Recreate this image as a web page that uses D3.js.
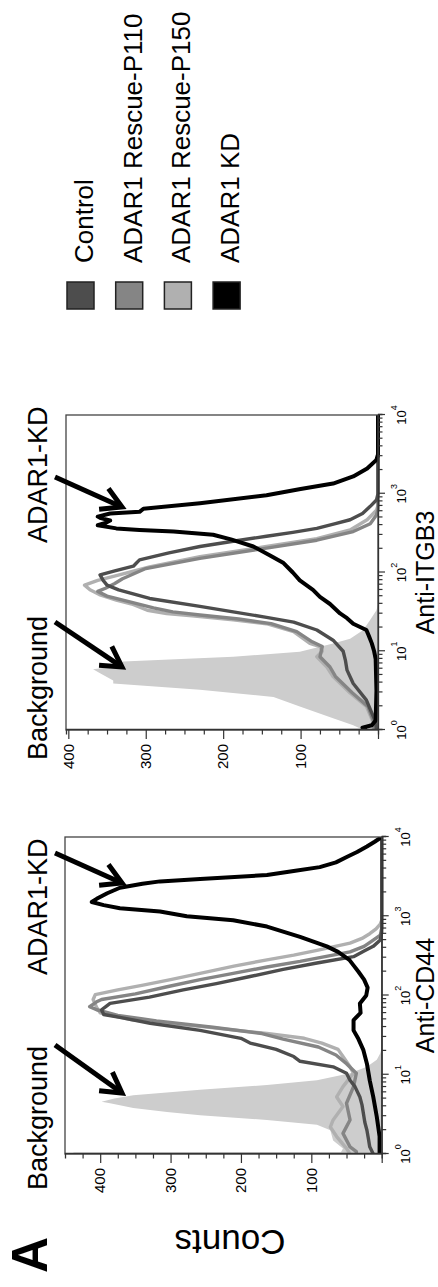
<!DOCTYPE html>
<html>
<head>
<meta charset="utf-8">
<script src="https://cdn.jsdelivr.net/npm/d3@7"></script>
<style>
  body { margin: 0; background: #fff; }
  svg { display: block; }
  text { font-family: "Liberation Sans", Arial, Helvetica, sans-serif; fill: #000; }
</style>
</head>
<body>
<svg id="fig" width="438" height="1287"></svg>
<script>
// values are [log10 fluorescence, counts]
const legendNames = ["Control", "ADAR1 Rescue-P110", "ADAR1 Rescue-P150", "ADAR1 KD"];
const decadeExponents = [0, 1, 2, 3, 4];
const countTickLabels = [100, 200, 300, 400];

const cd44Background = [[0,0],[0,438],[0.018,438],[0.022,58],[0.07,55],[0.17,69],[0.3,73],[0.37,92],
  [0.43,163],[0.49,258],[0.53,305],[0.58,353],[0.64,386],[0.66,398],[0.7,380],[0.74,353],[0.81,258],
  [0.87,163],[0.93,92],[1.02,45],[1.1,21],[1.19,7],[1.27,2],[1.35,0],[4,0]];
const cd44Control = [[0,12],[0.09,17],[0.2,19],[0.3,21],[0.4,24],[0.51,26],[0.62,28],[0.72,31],[0.85,38],
  [0.93,45],[1.02,50],[1.1,69],[1.17,116],[1.23,125],[1.32,150],[1.4,187],[1.46,200],[1.56,258],
  [1.65,329],[1.72,370],[1.76,395],[1.82,398],[1.86,392],[1.9,386],[1.98,330],[2.07,282],[2.15,235],
  [2.24,187],[2.33,140],[2.41,92],[2.49,40],[2.56,25],[2.62,12],[2.7,2],[2.8,0],[4,0]];
const cd44P110 = [[0,36],[0.03,36],[0.09,45],[0.26,55],[0.43,45],[0.64,50],[0.85,40],[1.02,36],[1.14,50],
  [1.25,65],[1.35,90],[1.45,140],[1.52,170],[1.6,240],[1.68,320],[1.75,375],[1.82,405],[1.86,415],
  [1.92,405],[1.95,398],[2.02,350],[2.11,305],[2.2,258],[2.28,211],[2.36,163],[2.43,116],[2.5,75],
  [2.55,45],[2.62,25],[2.7,12],[2.76,2],[2.85,0],[4,0]];
const cd44P150 = [[0,45],[0.07,50],[0.22,64],[0.34,73],[0.43,69],[0.6,55],[0.72,64],[0.85,55],[1.02,40],
  [1.1,45],[1.23,55],[1.32,62],[1.4,85],[1.46,110],[1.52,163],[1.61,258],[1.69,353],[1.78,400],
  [1.85,405],[1.95,410],[2.01,407],[2.07,375],[2.13,339],[2.2,300],[2.28,258],[2.37,210],[2.45,163],
  [2.51,125],[2.57,92],[2.66,45],[2.72,28],[2.78,17],[2.84,8],[2.9,2],[2.95,0],[4,0]];
const cd44KD = [[0,3],[0.22,3],[0.47,7],[0.72,12],[0.93,17],[1.14,21],[1.31,26],[1.45,33],[1.56,40],
  [1.69,40],[1.78,30],[1.9,31],[2.0,22],[2.1,20],[2.2,25],[2.3,33],[2.38,40],[2.45,46],[2.55,62],
  [2.62,78],[2.68,97],[2.74,116],[2.87,163],[2.95,211],[3.0,277],[3.06,315],[3.1,372],[3.14,395],
  [3.18,412],[3.22,405],[3.29,390],[3.36,372],[3.41,340],[3.44,315],[3.47,258],[3.52,163],[3.57,125],
  [3.62,88],[3.68,65],[3.75,49],[3.81,35],[3.88,21],[3.94,10],[4.0,0]];

const itgb3Background = [[0,0],[0,130],[0.012,130],[0.02,23],[0.06,32],[0.15,58],[0.3,101],[0.42,135],
  [0.51,230],[0.59,342],[0.63,342],[0.72,359],[0.77,368],[0.8,345],[0.87,329],[0.93,187],[0.995,101],
  [1.1,58],[1.16,36],[1.27,19],[1.4,10],[1.52,2],[1.6,0],[4,0]];
const itgb3Control = [[0,2],[0.1,3],[0.38,15],[0.59,32],[0.76,40],[0.88,42],[1.0,45],[1.14,58],[1.27,79],
  [1.37,109],[1.43,144],[1.5,187],[1.57,230],[1.67,295],[1.78,335],[1.84,350],[1.9,355],[1.97,359],
  [2.02,340],[2.08,316],[2.12,312],[2.16,308],[2.25,270],[2.33,230],[2.4,185],[2.46,144],[2.51,110],
  [2.56,79],[2.62,55],[2.67,36],[2.75,20],[2.84,10],[2.92,2],[3.0,0],[4,0]];
const itgb3P110 = [[0,5],[0.09,5],[0.3,13],[0.47,33],[0.68,55],[0.8,62],[0.93,75],[1.06,72],[1.12,85],
  [1.25,105],[1.35,138],[1.41,180],[1.46,230],[1.5,265],[1.55,290],[1.62,318],[1.7,350],[1.76,362],
  [1.8,352],[1.86,340],[1.92,330],[2.05,300],[2.18,230],[2.31,144],[2.41,79],[2.52,32],[2.62,10],
  [2.73,2],[2.8,0],[4,0]];
const itgb3P150 = [[0,6],[0.09,6],[0.3,15],[0.47,36],[0.68,58],[0.8,66],[0.93,79],[1.0,72],[1.06,75],
  [1.1,88],[1.25,109],[1.35,144],[1.4,187],[1.45,240],[1.48,273],[1.52,298],[1.6,318],[1.65,338],
  [1.72,360],[1.78,372],[1.84,379],[1.9,362],[1.96,338],[2.07,295],[2.2,230],[2.33,144],[2.43,79],
  [2.54,36],[2.67,14],[2.79,2],[2.85,0],[4,0]];
const itgb3KD = [[0,15],[0.03,20],[0.06,8],[0.12,3],[0.5,2],[0.9,3],[1.0,5],[1.1,8],[1.2,12],[1.27,15],
  [1.35,32],[1.42,40],[1.48,49],[1.6,62],[1.69,75],[1.78,84],[1.9,101],[2.0,110],[2.12,122],[2.22,140],
  [2.33,161],[2.42,190],[2.48,213],[2.52,264],[2.54,308],[2.56,338],[2.6,362],[2.63,352],[2.66,346],
  [2.69,358],[2.71,362],[2.75,346],[2.77,308],[2.81,303],[2.88,230],[2.98,144],[3.06,100],[3.13,58],
  [3.22,32],[3.32,14],[3.43,2],[3.5,0],[4,0]];

const pageH = 1287;

const colors = {
  "Control": "#4d4d4d",
  "ADAR1 Rescue-P110": "#858585",
  "ADAR1 Rescue-P150": "#b0b0b0",
  "ADAR1 KD": "#000000",
  background: "#cdcdcd"
};

// the figure is laid out landscape and turned a quarter turn counter-clockwise
const svg = d3.select("#fig");
const fig = svg.append("g").attr("transform", `translate(0,${pageH}) rotate(-90)`);

const panels = [
  {
    id: "cd44", title: "Anti-CD44",
    left: 133, right: 450, top: 65, bottom: 381.7, countMax: 450,
    background: cd44Background,
    series: { "ADAR1 Rescue-P150": cd44P150, "ADAR1 Rescue-P110": cd44P110, "Control": cd44Control, "ADAR1 KD": cd44KD },
    notes: [
      { text: "Background", x: 97, tail: [242, 55], head: [194, 122] },
      { text: "ADAR1-KD", x: 312, tail: [434, 55], head: [404, 122] }
    ]
  },
  {
    id: "itgb3", title: "Anti-ITGB3",
    left: 557, right: 872, top: 66, bottom: 378, countMax: 403,
    background: itgb3Background,
    series: { "ADAR1 Rescue-P150": itgb3P150, "ADAR1 Rescue-P110": itgb3P110, "Control": itgb3Control, "ADAR1 KD": itgb3KD },
    notes: [
      { text: "Background", x: 527, tail: [665, 55], head: [620, 122] },
      { text: "ADAR1-KD", x: 744, tail: [810, 55], head: [780, 122] }
    ]
  }
];

function drawArrow(g, tail, head) {
  const dx = tail[0] - head[0], dy = tail[1] - head[1];
  const len = Math.hypot(dx, dy);
  const ux = dx / len, uy = dy / len;
  const barb = 23, ang = 0.52;
  const rot = a => [head[0] + barb * (ux * Math.cos(a) - uy * Math.sin(a)), head[1] + barb * (ux * Math.sin(a) + uy * Math.cos(a))];
  g.append("line")
    .attr("x1", tail[0]).attr("y1", tail[1])
    .attr("x2", head[0] + ux * 2).attr("y2", head[1] + uy * 2)
    .attr("stroke", "#000").attr("stroke-width", 5);
  g.append("path")
    .attr("d", `M${rot(ang)}L${head}L${rot(-ang)}`)
    .attr("fill", "none").attr("stroke", "#000")
    .attr("stroke-width", 5).attr("stroke-linejoin", "miter");
}

panels.forEach(p => {
  const x = d3.scaleLog().domain([1, 1e4]).range([p.left, p.right]);
  const y = d3.scaleLinear().domain([0, p.countMax]).range([p.bottom, p.top]);
  const g = fig.append("g");

  g.append("clipPath").attr("id", `clip-${p.id}`)
    .append("rect")
    .attr("x", p.left).attr("y", p.top)
    .attr("width", p.right - p.left).attr("height", p.bottom - p.top + 3);

  const plot = g.append("g").attr("clip-path", `url(#clip-${p.id})`);

  plot.append("path")
    .datum(p.background)
    .attr("fill", colors.background)
    .attr("d", d3.area().x(d => x(10 ** d[0])).y0(y(0)).y1(d => y(d[1])));

  const line = d3.line().x(d => x(10 ** d[0])).y(d => y(d[1]));
  Object.entries(p.series).forEach(([name, values]) => {
    plot.append("path")
      .datum(values)
      .attr("fill", "none")
      .attr("stroke", colors[name])
      .attr("stroke-width", name === "ADAR1 KD" ? 4 : 3.4)
      .attr("stroke-linejoin", "round")
      .attr("d", line);
  });

  g.append("rect")
    .attr("x", p.left).attr("y", p.top)
    .attr("width", p.right - p.left).attr("height", p.bottom - p.top)
    .attr("fill", "none").attr("stroke", "#444").attr("stroke-width", 1.3);

  // log axis
  const majors = decadeExponents.map(k => 10 ** k);
  const minors = decadeExponents.slice(0, -1).flatMap(k => d3.range(2, 10).map(m => m * 10 ** k));
  const xAxis = g.append("g")
    .attr("transform", `translate(0,${p.bottom})`)
    .call(d3.axisBottom(x).tickValues(majors.concat(minors)).tickSize(4.5).tickFormat(""));
  xAxis.select(".domain").attr("stroke", "#333").attr("stroke-width", 1.3);
  xAxis.selectAll(".tick line")
    .attr("stroke", "#333").attr("stroke-width", 1.2)
    .attr("y2", d => majors.includes(d) ? 7 : 4.5);

  const xl = g.append("g");
  decadeExponents.forEach(k => {
    const t = xl.append("text")
      .attr("x", x(10 ** k)).attr("y", p.bottom + 28)
      .attr("text-anchor", "middle")
      .attr("fill", "#222")
      .style("font-size", "13px");
    t.append("tspan").text("10");
    t.append("tspan").attr("dy", -9).style("font-size", "9px").text(k);
  });

  g.append("text")
    .attr("x", (p.left + p.right) / 2).attr("y", 434)
    .attr("text-anchor", "middle")
    .style("font-size", "25px")
    .text(p.title);

  // counts axis
  const yTicks = d3.range(0, p.countMax, 25);
  const yAxis = g.append("g")
    .attr("transform", `translate(${p.left},0)`)
    .call(d3.axisLeft(y).tickValues(yTicks).tickSize(4.5).tickFormat(""));
  yAxis.select(".domain").attr("stroke", "#333").attr("stroke-width", 1.3);
  yAxis.selectAll(".tick line")
    .attr("stroke", "#333").attr("stroke-width", 1.2)
    .attr("x2", d => d % 100 === 0 ? -9 : -4.5);

  g.selectAll("text.count")
    .data(countTickLabels)
    .join("text")
    .attr("class", "count")
    .attr("x", p.left - 14)
    .attr("y", d => y(d))
    .attr("dy", "0.35em")
    .attr("text-anchor", "end")
    .attr("fill", "#333")
    .style("font-size", "15px")
    .text(d => d);

  p.notes.forEach(n => {
    g.append("text")
      .attr("x", n.x).attr("y", 47)
      .style("font-size", "27px")
      .text(n.text);
    drawArrow(g, n.tail, n.head);
  });
});

// y title and panel letter
fig.append("text")
  .attr("transform", "translate(57,230) rotate(-90)")
  .attr("text-anchor", "middle")
  .style("font-size", "35px")
  .text("Counts");

fig.append("text")
  .attr("x", 14).attr("y", 47)
  .style("font-size", "50px")
  .style("font-weight", "bold")
  .text("A");

// legend
const legend = fig.append("g");
legendNames.forEach((name, i) => {
  const top = 67 + i * 48.7;
  legend.append("rect")
    .attr("x", 978).attr("y", top)
    .attr("width", 27).attr("height", 27)
    .attr("fill", colors[name])
    .attr("stroke", "#222").attr("stroke-width", 1.5);
  legend.append("text")
    .attr("x", 1024).attr("y", top + 26)
    .style("font-size", "26px")
    .text(name);
});
</script>
</body>
</html>
